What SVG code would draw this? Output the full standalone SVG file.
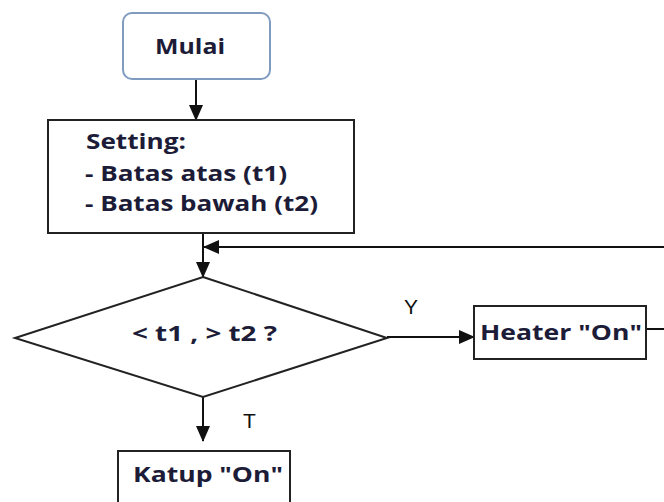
<svg xmlns="http://www.w3.org/2000/svg" width="664" height="502" viewBox="0 0 664 502">
<style>
.box{fill:#fff;stroke:#222;stroke-width:2}
.ln{fill:none;stroke:#111;stroke-width:2}
.t{font-family:"Open Sans","Liberation Sans",Arial,sans-serif;font-weight:bold;font-size:22px;fill:#1c1c38}
.lbl{font-family:"Liberation Sans",Arial,sans-serif;font-size:21px;fill:#111}
</style>
<defs>
<marker id="ah" markerWidth="16" markerHeight="16" refX="15" refY="8" orient="auto" markerUnits="userSpaceOnUse">
<path d="M0,1 L16,8 L0,15 Z" fill="#111"/>
</marker>
</defs>
<rect width="664" height="502" fill="#fff"/>
<g id="connectors">
<line class="ln" x1="196" y1="79" x2="196" y2="120" marker-end="url(#ah)"/>
<line class="ln" x1="203" y1="233" x2="203" y2="277" marker-end="url(#ah)"/>
<line class="ln" x1="664" y1="247" x2="204" y2="247" marker-end="url(#ah)"/>
<line class="ln" x1="387" y1="337" x2="474" y2="337" marker-end="url(#ah)"/>
<line class="ln" x1="646" y1="329" x2="664" y2="329"/>
<line class="ln" x1="203" y1="397" x2="203" y2="441" marker-end="url(#ah)"/>
<text class="lbl" x="404" y="314">Y</text>
<text class="lbl" x="243" y="428">T</text>
</g>
<g id="mulai">
<rect x="123" y="13" width="147" height="66" rx="9" fill="#fff" stroke="#7f9cc0" stroke-width="2"/>
<text class="t" x="155" y="54" textLength="70" lengthAdjust="spacingAndGlyphs">Mulai</text>
</g>
<g id="setting">
<rect class="box" x="48" y="120" width="306" height="113"/>
<text class="t" x="86" y="149" textLength="100" lengthAdjust="spacingAndGlyphs">Setting:</text>
<text class="t" x="85" y="181" textLength="202" lengthAdjust="spacingAndGlyphs">- Batas atas (t1)</text>
<text class="t" x="85" y="211" textLength="233" lengthAdjust="spacingAndGlyphs">- Batas bawah (t2)</text>
</g>
<g id="decision">
<polygon points="203,277 387,338 203,397 15,338" fill="#fff" stroke="#222" stroke-width="2"/>
<text class="t" x="132" y="341" textLength="145" lengthAdjust="spacingAndGlyphs">&lt; t1 , &gt; t2 ?</text>
</g>
<g id="heater">
<rect class="box" x="474" y="306" width="172" height="53"/>
<text class="t" x="480" y="340" textLength="162" lengthAdjust="spacingAndGlyphs">Heater "On"</text>
</g>
<g id="katup">
<rect class="box" x="118" y="451" width="172" height="60"/>
<text class="t" x="133" y="482" textLength="150" lengthAdjust="spacingAndGlyphs">Katup "On"</text>
</g>
</svg>
